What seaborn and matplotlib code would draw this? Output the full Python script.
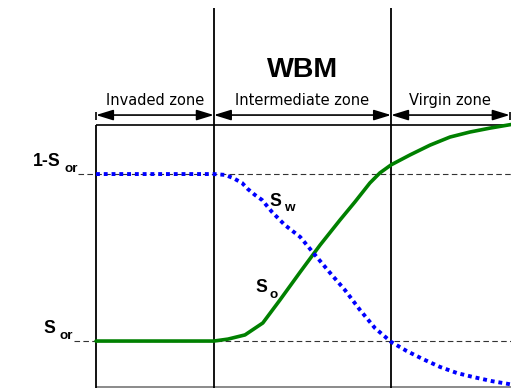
import numpy as np
import pandas as pd
import matplotlib
matplotlib.use("Agg")
import matplotlib.pyplot as plt
import seaborn as sns

# ---- data -------------------------------------------------------------
# distance from the wellbore (arbitrary units, 0..100)
distance_sw = [0, 28.4, 31.1, 33.0, 35.2, 36.6, 38.3, 40.0, 42.4, 45.5, 49.2,
               52.8, 56.4, 60.0, 63.6, 67.2, 71.1, 74.9, 78.8, 82.9, 87.0,
               90.8, 95.4, 99.3, 100]
sw = [0.800, 0.800, 0.797, 0.786, 0.768, 0.746, 0.725, 0.707, 0.664, 0.617,
      0.574, 0.509, 0.445, 0.383, 0.312, 0.247, 0.197, 0.164, 0.135, 0.107,
      0.085, 0.071, 0.056, 0.046, 0.044]

distance_so = [0, 28.4, 31.8, 35.9, 40.2, 44.3, 49.2, 54.0, 58.8, 62.4, 66.0,
               68.4, 71.1, 75.7, 80.5, 85.3, 90.1, 94.9, 100]
so = [0.200, 0.200, 0.207, 0.222, 0.265, 0.347, 0.448, 0.545, 0.635, 0.700,
      0.768, 0.804, 0.833, 0.869, 0.904, 0.933, 0.951, 0.965, 0.978]

sor = 0.2
zone_edges = [0, 28.4, 71.1, 99.7]
zone_names = ["Invaded zone", "Intermediate zone", "Virgin zone"]
title = "WBM"

# ---- figure -----------------------------------------------------------
sns.set_style("white")
fig = plt.figure(figsize=(5.11, 3.88), dpi=100)
ax = fig.add_axes([0, 0, 1, 1])
ax.set_xlim(-23.13, 100)
ax.set_ylim(0.0313, 1.4254)
ax.axis("off")

bold = dict(family="Liberation Sans", fontweight="bold", color="black")

# reference saturation levels
ax.hlines([1 - sor, sor], [-4.3, -5.3], 100, colors="#333333",
          linewidth=0.8, linestyles=(0, (5, 3)), zorder=1)

# frame of the profile
box_top, box_bottom = 0.976, 0.0348
ax.hlines(box_top, 0, 100, colors="black", linewidth=1.2, zorder=2)
ax.hlines(box_bottom, 0, 100, colors="#777777", linewidth=1.2, zorder=2)
ax.vlines(zone_edges[0], 0.0313, box_top, colors="black", linewidth=1.3, zorder=2)
ax.vlines(zone_edges[1:3], 0.0313, 1.397, colors="black", linewidth=1.3, zorder=2)

# saturation profiles
df_sw = pd.DataFrame({"distance": distance_sw, "saturation": sw})
df_so = pd.DataFrame({"distance": distance_so, "saturation": so})
sns.lineplot(data=df_so, x="distance", y="saturation", ax=ax,
             color="#008000", linewidth=2.6, zorder=4)
sns.lineplot(data=df_sw, x="distance", y="saturation", ax=ax,
             color="#0000ff", linewidth=2.8, linestyle=(0, (1, 1)), zorder=5)
ax.set_xlim(-23.13, 100)
ax.set_ylim(0.0313, 1.4254)
ax.axis("off")

# zone arrows and labels
arrow_y = 1.012
for left, right, name in zip(zone_edges[:-1], zone_edges[1:], zone_names):
    ax.annotate("", xy=(right, arrow_y), xytext=(left, arrow_y),
                arrowprops=dict(arrowstyle="<|-|>,head_length=0.65,head_width=0.2",
                                mutation_scale=16, color="black", linewidth=1.2,
                                shrinkA=0, shrinkB=0))
    ax.text((left + right) / 2, 1.048, name, ha="center", va="baseline",
            family="DejaVu Sans", fontsize=10.5, color="black")
ax.vlines([zone_edges[0], zone_edges[-1]], 0.994, 1.023, colors="black", linewidth=1.2)

ax.text((zone_edges[1] + zone_edges[2]) / 2, 1.150, title, ha="center",
        va="baseline", fontsize=20.5, **bold)

# left-hand level labels
ax.text(-8.6, 0.829, "1-S", ha="right", va="baseline", fontsize=12.7, **bold)
ax.text(-7.5, 0.808, "or", ha="left", va="baseline", fontsize=9.7, **bold)
ax.text(-9.8, 0.228, "S", ha="right", va="baseline", fontsize=12.7, **bold)
ax.text(-8.9, 0.207, "or", ha="left", va="baseline", fontsize=9.7, **bold)

# curve labels
ax.text(41.7, 0.685, "S", ha="left", va="baseline", fontsize=12.7, **bold)
ax.text(45.3, 0.667, "w", ha="left", va="baseline", fontsize=9.7, **bold)
ax.text(38.3, 0.376, "S", ha="left", va="baseline", fontsize=12.7, **bold)
ax.text(41.7, 0.355, "o", ha="left", va="baseline", fontsize=9.7, **bold)

fig.savefig("out.png", dpi=100)
